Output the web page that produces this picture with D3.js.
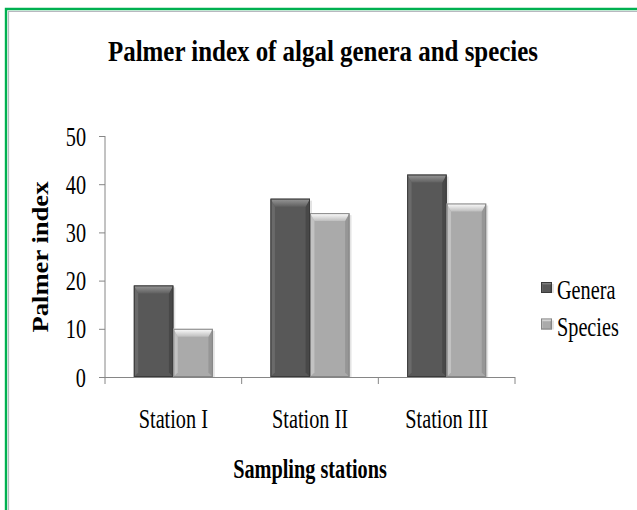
<!DOCTYPE html>
<html><head><meta charset="utf-8">
<script src="https://cdn.jsdelivr.net/npm/d3@7"></script>
<style>html,body{margin:0;padding:0;background:#fff;}svg{display:block;}</style>
</head><body>
<script>
const categories = ["Station I", "Station II", "Station III"];
const seriesNames = ["Genera", "Species"];
const genera = [19, 37, 42];
const species = [10, 34, 36];
const yTicks = [0, 10, 20, 30, 40, 50];
const chartTitle = "Palmer index of algal genera and species";
const xTitle = "Sampling stations";
const yTitle = "Palmer index";

const W = 637, H = 510;
const svg = d3.select("body").append("svg").attr("width", W).attr("height", H);
const serif = "'Liberation Serif','Times New Roman',serif";
const SX = 0.75;
const FS = 27;

// frame
svg.append("rect").attr("x",0).attr("y",0).attr("width",W).attr("height",H).attr("fill","#fff");
svg.append("path").attr("d",`M6,${H} V9 H${W}`).attr("fill","none").attr("stroke","#00b050").attr("stroke-width",2.4);
svg.append("path").attr("d",`M8.5,${H} V11.5 H${W}`).attr("fill","none").attr("stroke","#b8b8c0").attr("stroke-width",1.2);

const data = categories.map((c,i)=>({cat:c, values:[genera[i], species[i]]}));

const x0 = d3.scaleBand().domain(categories).range([105,515]).paddingInner(0).paddingOuter(0);
const x1 = d3.scaleBand().domain(seriesNames).range([0,x0.bandwidth()]).paddingInner(0).paddingOuter(0.73);
const y = d3.scaleLinear().domain([0,50]).range([377,136]);

const styles = {
  Genera: {body:"#585858", edge:"#3a3a3a", top:["#9a9a9a","#606060"], left:"#6a6a6a", right:"#484848"},
  Species:{body:"#aaaaaa", edge:"#858585", top:["#ffffff","#bdbdbd"], left:"#c2c2c2", right:"#969696"}
};
const defs = svg.append("defs");
seriesNames.forEach(s=>{
  const g = defs.append("linearGradient").attr("id","top"+s).attr("x1",0).attr("y1",0).attr("x2",0).attr("y2",1);
  g.append("stop").attr("offset","0%").attr("stop-color",styles[s].top[0]);
  g.append("stop").attr("offset","100%").attr("stop-color",styles[s].top[1]);
});

function bevelBar(g, x, yy, w, h, s, b){
  const st = styles[s];
  g.append("rect").attr("x",x+2).attr("y",yy+2).attr("width",w).attr("height",h-2).attr("fill","#d0d0d0").attr("opacity",0.6);
  g.append("rect").attr("x",x).attr("y",yy).attr("width",w).attr("height",h).attr("fill",st.body);
  const bt = Math.min(b, h/2), bs = Math.min(b*0.55, w/4);
  g.append("path").attr("d",`M${x},${yy} L${x+bs},${yy+bt} V${yy+h-bs} L${x},${yy+h} Z`).attr("fill",st.left);
  g.append("path").attr("d",`M${x+w},${yy} L${x+w-bs},${yy+bt} V${yy+h-bs} L${x+w},${yy+h} Z`).attr("fill",st.right);
  g.append("path").attr("d",`M${x},${yy} H${x+w} L${x+w-bs},${yy+bt} H${x+bs} Z`).attr("fill",`url(#top${s})`);
  g.append("rect").attr("x",x+0.5).attr("y",yy+0.5).attr("width",w-1).attr("height",h-1).attr("fill","none").attr("stroke",st.edge).attr("stroke-width",1);
}

const barsG = svg.append("g");
data.forEach(d=>{
  seriesNames.forEach((s,j)=>{
    const bx = x0(d.cat) + x1(s);
    const by = y(d.values[j]);
    bevelBar(barsG, bx, by, x1.bandwidth(), y(0)-by, s, 8);
  });
});

// axes
const axisColor = "#868686";
const yAxis = svg.append("g").attr("transform","translate(105,0)")
  .call(d3.axisLeft(y).tickValues(yTicks).tickSize(6).tickPadding(0).tickFormat(d3.format("d")));
yAxis.select(".domain").attr("stroke",axisColor).attr("d","M0,136V377");
yAxis.selectAll(".tick line").attr("stroke",axisColor);
yAxis.selectAll(".tick text").attr("fill","#000").attr("font-family",serif).attr("font-size",FS)
  .attr("text-anchor","end").attr("dy","0.34em")
  .attr("transform",`translate(-19,0) scale(${SX},1)`).attr("x",0);

const xTickPos = [105, ...categories.map(c=>x0(c)+x0.bandwidth())];
const xAxis = svg.append("g");
xAxis.append("line").attr("x1",105).attr("x2",515).attr("y1",377.5).attr("y2",377.5).attr("stroke",axisColor);
xAxis.selectAll("line.t").data(xTickPos).join("line").attr("class","t")
  .attr("x1",d=>d).attr("x2",d=>d).attr("y1",377).attr("y2",384).attr("stroke",axisColor);
xAxis.selectAll("text").data(categories).join("text")
  .attr("transform",d=>`translate(${x0(d)+x0.bandwidth()/2},428) scale(${SX},1)`)
  .attr("text-anchor","middle").attr("font-family",serif).attr("font-size",FS).attr("fill","#000")
  .text(d=>d);

// titles
svg.append("text").attr("x",323).attr("y",61).attr("text-anchor","middle")
  .attr("font-family",serif).attr("font-weight","bold").attr("font-size",29)
  .attr("textLength",430).attr("lengthAdjust","spacingAndGlyphs").text(chartTitle);
svg.append("text").attr("transform",`translate(310,478) scale(${SX},1)`).attr("text-anchor","middle")
  .attr("font-family",serif).attr("font-weight","bold").attr("font-size",FS).text(xTitle);
svg.append("text").attr("transform","translate(48,257) rotate(-90)").attr("text-anchor","middle")
  .attr("font-family",serif).attr("font-weight","bold").attr("font-size",23)
  .attr("textLength",151).attr("lengthAdjust","spacingAndGlyphs").text(yTitle);

// legend
const leg = svg.append("g");
seriesNames.forEach((s,i)=>{
  const ly = 282 + i*36.5;
  bevelBar(leg, 541, ly, 11, 11, s, 3);
  leg.append("text").attr("transform",`translate(557,${ly+17}) scale(${SX},1)`)
    .attr("font-family",serif).attr("font-size",FS).attr("fill","#000").text(s);
});
</script>
</body></html>
